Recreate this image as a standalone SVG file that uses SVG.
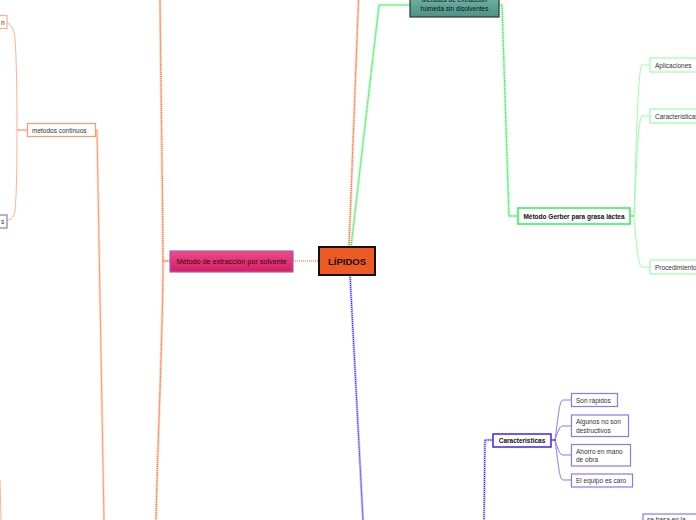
<svg xmlns="http://www.w3.org/2000/svg" width="696" height="520" viewBox="0 0 696 520">
<defs>
<linearGradient id="gPink" x1="0" y1="0" x2="0" y2="1"><stop offset="0" stop-color="#ee4a8a"/><stop offset="1" stop-color="#d81b60"/></linearGradient>
<linearGradient id="gTeal" x1="0" y1="0" x2="0" y2="1"><stop offset="0" stop-color="#72b8aa"/><stop offset="1" stop-color="#4d9283"/></linearGradient>
<style>
text{font-family:"Liberation Sans",Arial,sans-serif;fill:#333;font-size:6.5px}
.b{font-weight:bold;fill:#111}
.halo{fill:none;stroke-width:2.5;stroke-linecap:round}
.dot{fill:none;stroke-width:1;stroke-dasharray:1 1}
.sol{fill:none;stroke-width:1}
</style>
</defs>
<rect width="696" height="520" fill="#fff"/>
<g id="connectors">
<path class="halo" stroke="#ffd2bd" d="M170,261 H163 M160,0 C161,100 163,200 163,261 C163,330 158,430 156,520"/>
<path class="dot" stroke="#ff5a1f" d="M170,261 H163 M160,0 C161,100 163,200 163,261 C163,330 158,430 156,520"/>
<path class="dot" stroke="#ff5a1f" d="M293,261 H319"/>
<path class="halo" stroke="#ffd2bd" d="M349,247 L358.5,0"/>
<path class="dot" stroke="#ff5a1f" d="M349,247 L358.5,0"/>
<path class="halo" stroke="#b8ffc4" d="M351,247 L379,5 H410"/>
<path class="dot" stroke="#22dd44" d="M351,247 L379,5 H410"/>
<path class="halo" stroke="#b8ffc4" d="M499,5 H502 L509,216 H518"/>
<path class="dot" stroke="#22dd44" d="M499,5 H502 L509,216 H518"/>
<path class="sol" stroke="#99ffaa" d="M630,216 H634 C636,150 638,65 642,65 H650 M634,216 C636,180 638,116 642,116 H650 M634,216 C636,240 638,267 642,267 H650"/>
<path class="sol" stroke="#33ee55" d="M630,216 H634"/>
<path class="halo" stroke="#c4c4ff" d="M350,275 L363,520"/>
<path class="dot" stroke="#2211ee" d="M350,275 L363,520"/>
<path class="halo" stroke="#c4c4ff" d="M493,440 H485 L484,520"/>
<path class="dot" stroke="#2211ee" d="M493,440 H485 L484,520"/>
<path class="sol" stroke="#8877ff" d="M551,440 H555 C558,420 559,400 563,400 H571 M555,440 C558,430 560,426 563,426 H571 M555,440 C558,450 560,455 563,455 H571 M555,440 C558,460 559,480 563,480 H571"/>
<path class="sol" stroke="#3322ee" stroke-width="1.5" d="M551,440 H556"/>
<path class="sol" stroke="#ff7744" d="M27,130 H17"/>
<path class="sol" stroke="#ffb08f" d="M17,130 C17,80 16,40 14,32 C12,26 10,24 7,23 M17,130 C17,180 16,210 14,215 C12,219 10,220 7,220"/>
<path class="halo" stroke="#ffe0d2" d="M96,130 H97 L104,520"/>
<path class="sol" stroke="#ff9a70" d="M96,130 H97 L104,520"/>
<path class="sol" stroke="#ffb08f" d="M0,480 L1,520"/>
</g>
<g id="lipidos">
<rect x="319" y="247" width="56" height="28" fill="#ee5a24" stroke="#111" stroke-width="2"/>
<text x="347" y="265" text-anchor="middle" class="b" style="font-size:9.5px">LÍPIDOS</text>
</g>
<g id="solvente">
<rect x="170" y="251" width="123" height="21" fill="url(#gPink)" stroke="#8e6bb5" stroke-width="1.2"/>
<text x="231.5" y="264" text-anchor="middle" style="fill:#111;font-size:7.2px">Método de extracción por solvente</text>
</g>
<g id="humeda">
<rect x="410" y="-6" width="89" height="23" fill="url(#gTeal)" stroke="#333" stroke-width="1.2"/>
<text x="454.5" y="2" text-anchor="middle" style="fill:#111">Métodos de extracción</text>
<text x="454.5" y="11" text-anchor="middle" style="fill:#111">húmeda sin disolventes</text>
</g>
<g id="gerber">
<rect x="518" y="208" width="112" height="16" fill="#fff" stroke="#33ee55" stroke-width="1.5"/>
<text x="574" y="218.5" text-anchor="middle" class="b">Método Gerber para grasa láctea</text>
</g>
<g id="aplicaciones">
<rect x="650" y="58" width="52" height="14" fill="#fff" stroke="#99ffaa" stroke-width="1.2"/>
<text x="655" y="67.5">Aplicaciones</text>
</g>
<g id="caracteristicas-g">
<rect x="650" y="109" width="52" height="14" fill="#fff" stroke="#99ffaa" stroke-width="1.2"/>
<text x="655" y="118.5">Características</text>
</g>
<g id="procedimiento">
<rect x="650" y="260" width="52" height="14" fill="#fff" stroke="#99ffaa" stroke-width="1.2"/>
<text x="655" y="269.5">Procedimiento</text>
</g>
<g id="caracteristicas">
<rect x="493" y="434" width="58" height="13" fill="#fff" stroke="#4422ee" stroke-width="1.5"/>
<text x="522" y="442.5" text-anchor="middle" class="b">Características</text>
</g>
<g id="rapidos">
<rect x="571.5" y="393.5" width="46" height="13" fill="#fff" stroke="#8877ff" stroke-width="1.2"/>
<text x="576" y="402.5">Son rápidos</text>
</g>
<g id="destructivos">
<rect x="571.5" y="415" width="57" height="21.5" fill="#fff" stroke="#8877ff" stroke-width="1.2"/>
<text x="576" y="424">Algunos no son</text>
<text x="576" y="432.5">destructivos</text>
</g>
<g id="ahorro">
<rect x="571.5" y="444.5" width="59" height="21.5" fill="#fff" stroke="#8877ff" stroke-width="1.2"/>
<text x="576" y="453.5">Ahorro en mano</text>
<text x="576" y="462">de obra</text>
</g>
<g id="caro">
<rect x="571.5" y="474" width="61" height="13" fill="#fff" stroke="#8877ff" stroke-width="1.2"/>
<text x="576" y="483">El equipo es caro</text>
</g>
<g id="basa">
<rect x="643" y="514" width="60" height="14" fill="#fff" stroke="#8877ff" stroke-width="1.2"/>
<text x="647" y="522">se basa en la</text>
</g>
<g id="continuos">
<rect x="27.5" y="123.5" width="68" height="13" fill="#fff" stroke="#ff9a70" stroke-width="1.2"/>
<text x="32" y="132.5">metodos continuos</text>
</g>
<g id="left-top">
<rect x="-20" y="15.5" width="27" height="13" fill="#fff" stroke="#ffb08f" stroke-width="1.2"/>
<text x="1" y="24.5">n</text>
</g>
<g id="left-bottom">
<rect x="-20" y="215" width="27" height="13" fill="#fff" stroke="#9977bb" stroke-width="1.2"/>
<text x="1" y="224">s</text>
</g>
</svg>
